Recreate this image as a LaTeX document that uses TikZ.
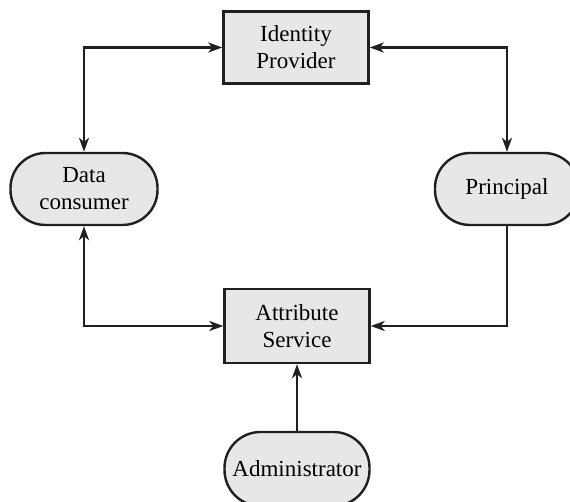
\documentclass[tikz,border=0pt]{standalone}
\usepackage{fontspec}
\setmainfont{Liberation Serif}
\usetikzlibrary{arrows.meta}
\definecolor{boxfill}{HTML}{E6E7E8}
\definecolor{ink}{HTML}{231F20}
\begin{document}
\begin{tikzpicture}[x=1pt,y=1pt,
  sq/.style={draw=ink, line width=2.4pt, fill=boxfill, minimum width=145pt, minimum height=72pt, align=center, font=\fontsize{23}{27}\selectfont, inner sep=0pt},
  pill/.style={sq, rounded corners=35pt},
  tip/.style={Stealth[length=14pt,width=10pt,inset=4pt]},
  conn/.style={draw=ink, line width=2.2pt, arrows={-Stealth[length=14pt,width=10pt,inset=4pt]}},
  conn2/.style={conn, arrows={Stealth[length=14pt,width=10pt,inset=4pt]-Stealth[length=14pt,width=10pt,inset=4pt]}}]
\useasboundingbox (0,0) rectangle (570,502);
\begin{scope}
\clip (0,0) rectangle (570,502);
\node[sq] (idp) at (296,454.5) {Identity\\Provider};
\node[pill, minimum width=147pt] (dc) at (84,313) {Data\\consumer};
\node[pill, minimum width=144pt] (pr) at (507,313) {Principal};
\node[sq, minimum height=74pt] (as) at (297,176) {Attribute\\Service};
\node[pill, minimum height=74pt, minimum width=145pt, rounded corners=36pt] (ad) at (297,33) {Administrator};
\end{scope}
\draw[conn2] (dc.north) |- (idp.west);
\draw[conn2] (idp.east) -| (pr.north);
\draw[conn2] (dc.south) |- (as.west);
\draw[conn] (pr.south) |- (as.east);
\draw[conn] (ad.north) -- (as.south);
\end{tikzpicture}
\end{document}
